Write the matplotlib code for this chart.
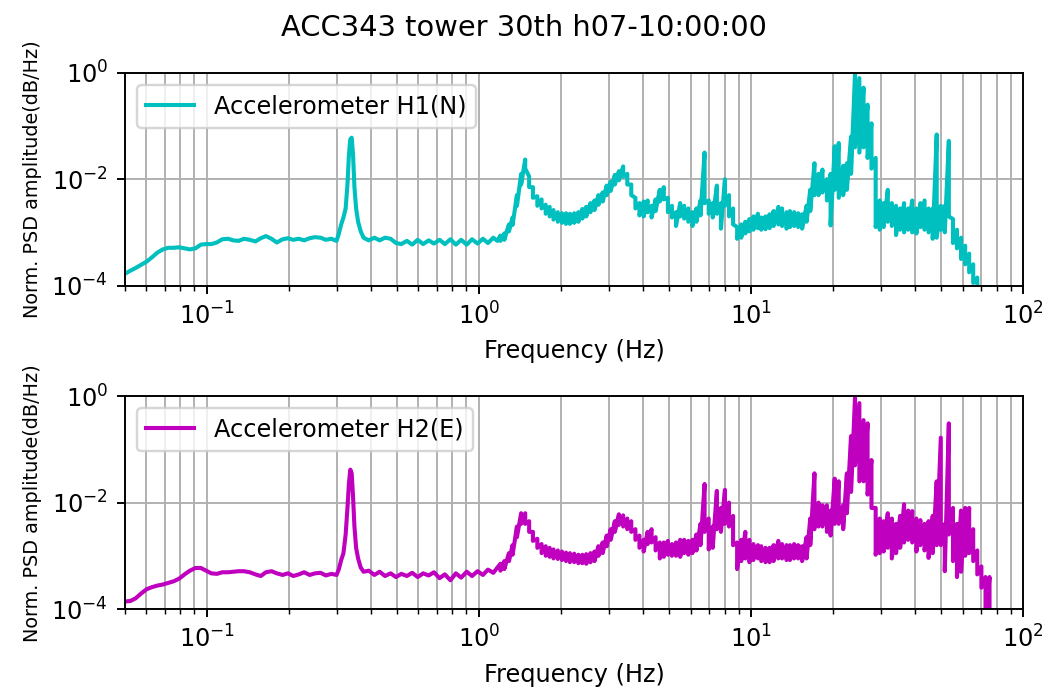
import matplotlib.pyplot as plt
import numpy as np
from matplotlib.ticker import NullLocator

# Frekvensbinnar: jämna delen (ett värde per bin)
freq_low = [0.050, 0.0524, 0.0548, 0.0574, 0.0601, 0.0629, 0.0659, 0.069, 0.0722, 0.0756,
            0.0792, 0.0829, 0.0868, 0.0909, 0.0952, 0.0996, 0.104, 0.109, 0.114, 0.120,
            0.125, 0.131, 0.137, 0.144, 0.151, 0.158, 0.165, 0.173, 0.181, 0.190,
            0.199, 0.208, 0.218, 0.228, 0.239, 0.250, 0.262, 0.274, 0.287, 0.300,
            0.306, 0.312, 0.318, 0.324, 0.329, 0.333, 0.337, 0.341, 0.345, 0.349,
            0.354, 0.360, 0.368, 0.377, 0.394, 0.413, 0.432, 0.452, 0.474, 0.496,
            0.519, 0.544, 0.569, 0.596, 0.624, 0.654, 0.684, 0.717, 0.750, 0.786,
            0.823, 0.861, 0.902, 0.944, 0.989, 1.035, 1.08, 1.13, 1.17]

# Brusiga delen: max/min per bin
freq_high = [1.20, 1.24, 1.29, 1.33, 1.38, 1.43, 1.48, 1.53, 1.58, 1.64,
             1.70, 1.76, 1.82, 1.88, 1.95, 2.02, 2.09, 2.16, 2.24, 2.32,
             2.40, 2.48, 2.57, 2.66, 2.75, 2.85, 2.95, 3.05, 3.16, 3.27,
             3.39, 3.51, 3.63, 3.76, 3.89, 4.03, 4.17, 4.31, 4.46, 4.62,
             4.78, 4.95, 5.12, 5.30, 5.49, 5.68, 5.88, 6.09, 6.30, 6.52,
             6.75, 6.99, 7.23, 7.49, 7.75, 8.02, 8.30, 8.59, 8.89, 9.20,
             9.53, 9.86, 10.2, 10.6, 10.9, 11.3, 11.7, 12.1, 12.6, 13.0,
             13.5, 13.9, 14.4, 14.9, 15.4, 16.0, 16.5, 17.1, 17.7, 18.3,
             19.0, 19.6, 20.3, 21.0, 21.8, 22.5, 23.3, 24.1, 25.0, 25.9,
             26.8, 27.7, 28.7, 29.7, 30.7, 31.8, 32.9, 34.1, 35.3, 36.5,
             37.8, 39.1, 40.5, 41.9, 43.4, 44.9, 46.5, 48.1, 49.8, 51.5,
             53.3, 55.2, 57.1, 59.1, 61.2, 63.3, 65.5, 67.8, 70.2, 72.7,
             75.2, 77.8]

# log10 av normerad PSD, H1 (N)
h1_low = [-3.78, -3.72, -3.67, -3.61, -3.55, -3.47, -3.38, -3.32, -3.29, -3.29,
          -3.28, -3.30, -3.32, -3.30, -3.23, -3.22, -3.22, -3.19, -3.13, -3.12,
          -3.15, -3.16, -3.12, -3.14, -3.17, -3.11, -3.07, -3.12, -3.19, -3.13,
          -3.11, -3.14, -3.12, -3.15, -3.11, -3.09, -3.10, -3.14, -3.12, -3.16,
          -3.02, -2.85, -2.72, -2.55, -2.10, -1.55, -1.25, -1.22, -1.55, -2.15,
          -2.55, -2.80, -2.98, -3.10, -3.15, -3.10, -3.15, -3.10, -3.12, -3.20,
          -3.22, -3.16, -3.23, -3.14, -3.22, -3.15, -3.21, -3.14, -3.22, -3.13,
          -3.23, -3.14, -3.23, -3.13, -3.21, -3.12, -3.20, -3.10, -3.16]

h1_max = [-3.06, -3.02, -2.85, -2.72, -2.30, -1.90, -1.63, -1.95, -2.15, -2.32,
          -2.38, -2.48, -2.52, -2.58, -2.62, -2.64, -2.64, -2.65, -2.64, -2.62,
          -2.56, -2.52, -2.45, -2.40, -2.30, -2.25, -2.12, -2.05, -1.92, -1.85,
          -1.76, -1.90, -2.10, -2.35, -2.45, -2.42, -2.40, -2.50, -2.38, -2.20,
          -2.15, -2.35, -2.50, -2.62, -2.45, -2.50, -2.55, -2.62, -2.55, -2.40,
          -1.50, -2.40, -2.45, -2.12, -2.45, -2.00, -2.30, -2.55, -2.90, -2.85,
          -2.80, -2.75, -2.70, -2.65, -2.72, -2.70, -2.66, -2.60, -2.52, -2.55,
          -2.62, -2.60, -2.62, -2.64, -2.66, -2.50, -2.20, -1.70, -1.90, -1.82,
          -2.00, -1.90, -1.38, -1.32, -1.75, -1.70, -1.20, -0.02, -0.10, -0.28,
          -0.60, -0.95, -1.60, -2.40, -2.45, -2.20, -2.45, -2.50, -2.55, -2.45,
          -2.55, -2.40, -2.55, -2.45, -2.40, -2.55, -2.55, -1.16, -2.50, -2.50,
          -1.28, -2.75, -2.95, -3.10, -3.25, -3.40, -3.60, -3.85, -4.50, -4.50,
          -4.50, -4.50]

h1_min = [-3.16, -3.14, -2.98, -2.86, -2.50, -2.10, -1.80, -2.15, -2.35, -2.50,
          -2.55, -2.65, -2.70, -2.76, -2.80, -2.82, -2.84, -2.84, -2.82, -2.80,
          -2.74, -2.70, -2.62, -2.58, -2.48, -2.42, -2.30, -2.22, -2.10, -2.02,
          -1.95, -2.10, -2.30, -2.55, -2.68, -2.70, -2.62, -2.72, -2.60, -2.42,
          -2.38, -2.62, -2.72, -2.88, -2.70, -2.74, -2.80, -2.88, -2.80, -2.68,
          -2.45, -2.65, -2.72, -2.65, -2.93, -2.50, -2.70, -2.85, -3.12, -3.10,
          -3.02, -2.98, -2.95, -2.92, -2.95, -2.94, -2.92, -2.88, -2.85, -2.88,
          -2.93, -2.90, -2.88, -2.90, -2.93, -2.80, -2.60, -2.30, -2.30, -2.25,
          -2.40, -2.87, -2.20, -2.35, -2.30, -2.20, -1.90, -1.40, -1.50, -1.40,
          -1.60, -1.80, -2.90, -2.95, -2.90, -2.80, -2.88, -3.05, -2.95, -3.00,
          -2.95, -3.00, -3.02, -2.90, -2.95, -3.00, -3.12, -3.10, -2.95, -3.00,
          -2.70, -3.20, -3.30, -3.50, -3.60, -3.75, -3.95, -4.30, -4.50, -4.50,
          -4.50, -4.50]

# log10 av normerad PSD, H2 (E)
h2_low = [-3.86, -3.85, -3.80, -3.71, -3.63, -3.59, -3.56, -3.54, -3.51, -3.48,
          -3.43, -3.35, -3.28, -3.23, -3.23, -3.28, -3.33, -3.34, -3.31, -3.31,
          -3.30, -3.29, -3.29, -3.31, -3.35, -3.38, -3.31, -3.29, -3.33, -3.36,
          -3.33, -3.38, -3.35, -3.31, -3.36, -3.33, -3.32, -3.37, -3.34, -3.36,
          -3.25, -3.08, -2.95, -2.60, -2.10, -1.65, -1.38, -1.45, -1.90, -2.45,
          -2.85, -3.05, -3.22, -3.30, -3.28, -3.36, -3.30, -3.38, -3.33, -3.40,
          -3.34, -3.38, -3.32, -3.40, -3.33, -3.37, -3.31, -3.42, -3.35, -3.46,
          -3.33, -3.41, -3.30, -3.38, -3.29, -3.36, -3.26, -3.32, -3.22]

h2_max = [-3.15, -3.10, -2.95, -2.80, -2.45, -2.20, -2.20, -2.35, -2.55, -2.68,
          -2.78, -2.82, -2.85, -2.88, -2.90, -2.92, -2.94, -2.95, -2.96, -2.98,
          -2.98, -2.97, -2.95, -2.92, -2.82, -2.75, -2.62, -2.50, -2.35, -2.22,
          -2.24, -2.30, -2.35, -2.50, -2.62, -2.70, -2.55, -2.50, -2.65, -2.75,
          -2.75, -2.72, -2.78, -2.75, -2.70, -2.70, -2.72, -2.70, -2.60, -2.40,
          -1.65, -2.30, -2.45, -1.78, -2.10, -1.76, -2.00, -2.25, -2.75, -2.70,
          -2.55, -2.70, -2.78, -2.80, -2.82, -2.85, -2.85, -2.80, -2.72, -2.78,
          -2.80, -2.80, -2.78, -2.80, -2.82, -2.65, -2.30, -1.45, -2.00, -2.05,
          -2.05, -2.15, -1.55, -1.60, -2.05, -1.45, -0.75, -0.03, -0.13, -0.45,
          -0.51, -1.20, -2.10, -2.30, -2.35, -2.20, -2.30, -2.40, -2.25, -2.03,
          -2.15, -2.16, -2.30, -2.33, -2.40, -2.35, -2.25, -1.60, -0.78, -2.40,
          -0.51, -2.10, -2.40, -2.15, -2.10, -2.10, -2.50, -2.90, -3.20, -3.40,
          -3.40, -4.40]

h2_min = [-3.28, -3.25, -3.10, -2.98, -2.65, -2.40, -2.40, -2.55, -2.72, -2.85,
          -2.95, -3.00, -3.02, -3.05, -3.06, -3.08, -3.10, -3.12, -3.12, -3.14,
          -3.14, -3.15, -3.12, -3.10, -3.00, -2.95, -2.82, -2.70, -2.55, -2.42,
          -2.45, -2.50, -2.55, -2.70, -2.85, -2.92, -2.78, -2.75, -2.90, -3.05,
          -3.02, -2.98, -3.00, -3.00, -3.02, -2.95, -2.98, -2.95, -2.90, -2.80,
          -2.55, -2.88, -2.85, -2.50, -2.55, -2.40, -2.45, -2.80, -3.25, -3.10,
          -3.05, -3.12, -3.08, -3.05, -3.10, -3.12, -3.12, -3.10, -3.05, -3.05,
          -3.08, -3.08, -3.05, -3.05, -3.10, -3.05, -2.80, -2.50, -2.45, -2.45,
          -2.55, -2.62, -2.40, -2.40, -2.50, -2.20, -1.80, -1.30, -1.60, -1.60,
          -1.85, -2.10, -2.98, -2.95, -2.92, -2.85, -3.05, -2.95, -2.85, -2.75,
          -2.70, -2.75, -2.92, -2.80, -2.90, -3.04, -2.95, -2.80, -2.80, -3.29,
          -2.60, -3.10, -3.40, -3.30, -3.00, -2.95, -3.10, -3.35, -3.60, -4.20,
          -4.20, -4.50]


def trace(low_vals, max_vals, min_vals):
    # max och min i varje bin ritas efter varandra i samma linje
    f = np.concatenate([freq_low, np.repeat(freq_high, 2)])
    v = np.concatenate([low_vals, np.column_stack([max_vals, min_vals]).ravel()])
    return f, 10 ** v


fig, axes = plt.subplots(2, 1, figsize=(6.06, 4.012), dpi=173)
fig.subplots_adjust(left=0.119, right=0.976, top=0.895, bottom=0.1225, hspace=0.52)

series = [(trace(h1_low, h1_max, h1_min), 'c', 'Accelerometer H1(N)'),
          (trace(h2_low, h2_max, h2_min), 'm', 'Accelerometer H2(E)')]

for ax, ((f, psd), col, lab) in zip(axes, series):
    ax.loglog(f, psd, color=col, lw=1.7, label=lab)
    ax.set_xlim(0.05, 100)
    ax.set_ylim(1e-4, 1)
    ax.set_yticks([1e-4, 1e-2, 1])
    ax.yaxis.set_minor_locator(NullLocator())
    ax.grid(True, which='both')
    ax.set_xlabel('Frequency (Hz)')
    ax.set_ylabel('Norm. PSD amplitude(dB/Hz)', fontsize=8)
    ax.legend(loc='upper left')

fig.suptitle('ACC343 tower 30th h07-10:00:00')
fig.savefig('out.png', dpi=173)
